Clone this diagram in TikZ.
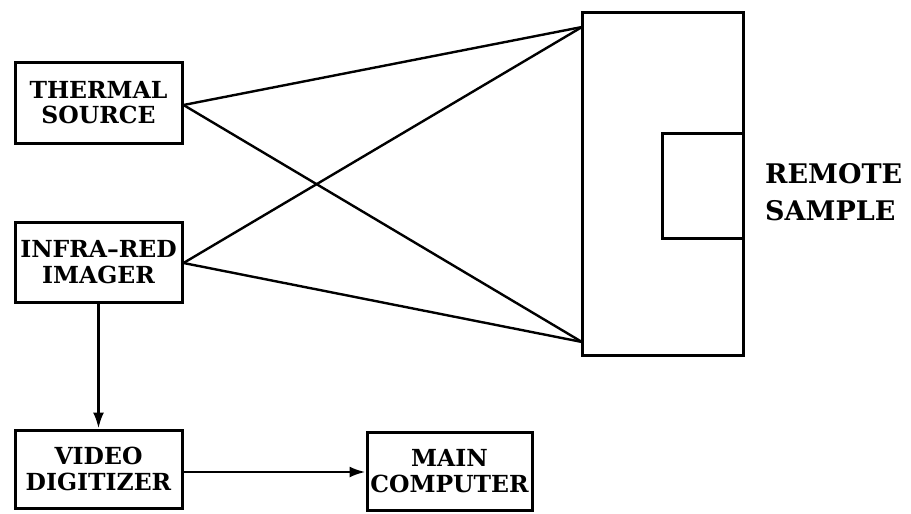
\documentclass[tikz,border=0pt]{standalone}
\usepackage{fontspec}
\setmainfont{DejaVu Serif}
\usetikzlibrary{arrows.meta}
\begin{document}
\begin{tikzpicture}[x=1pt,y=-1pt,
  blk/.style={draw,line width=3pt,inner sep=0pt,align=center,font=\fontsize{23.5}{25.5}\selectfont\bfseries},
  ray/.style={line width=2.4pt},
  flow/.style={line width=2.6pt,-{Latex[length=16pt,width=11pt]}}]
\useasboundingbox (0,0) rectangle (911,514);
\node[blk,minimum width=167pt,minimum height=81pt] (ts) at (98.5,102.5) {THERMAL\\SOURCE};
\node[blk,minimum width=167pt,minimum height=80pt] (ir) at (98.5,262) {INFRA--RED\\IMAGER};
\node[blk,minimum width=167pt,minimum height=78pt] (vd) at (98.5,469) {VIDEO\\DIGITIZER};
\node[blk,minimum width=165pt,minimum height=78pt] (mc) at (449.5,471) {MAIN\\COMPUTER};
\node[draw,line width=3pt,minimum width=161pt,minimum height=343pt,inner sep=0pt] (rs) at (662.5,183.5) {};
\node[draw,line width=3pt,minimum width=81pt,minimum height=105pt,inner sep=0pt] (tg) at (702.5,185.5) {};
\node[anchor=west,inner sep=0pt,align=left,font=\fontsize{27}{37}\selectfont\bfseries] (lb) at (765,192) {REMOTE\\SAMPLE};
\coordinate (ptop) at (582,27);
\coordinate (pbot) at (582,342);
\draw[ray] (ts.east |- 0,105) -- (ptop);
\draw[ray] (ts.east |- 0,105) -- (pbot);
\draw[ray] (ir.east |- 0,263) -- (ptop);
\draw[ray] (ir.east |- 0,263) -- (pbot);
\draw[flow] (ir.south) -- (vd.north);
\draw[flow] (vd.east |- 0,472) -- (mc.west |- 0,472);
\end{tikzpicture}
\end{document}
